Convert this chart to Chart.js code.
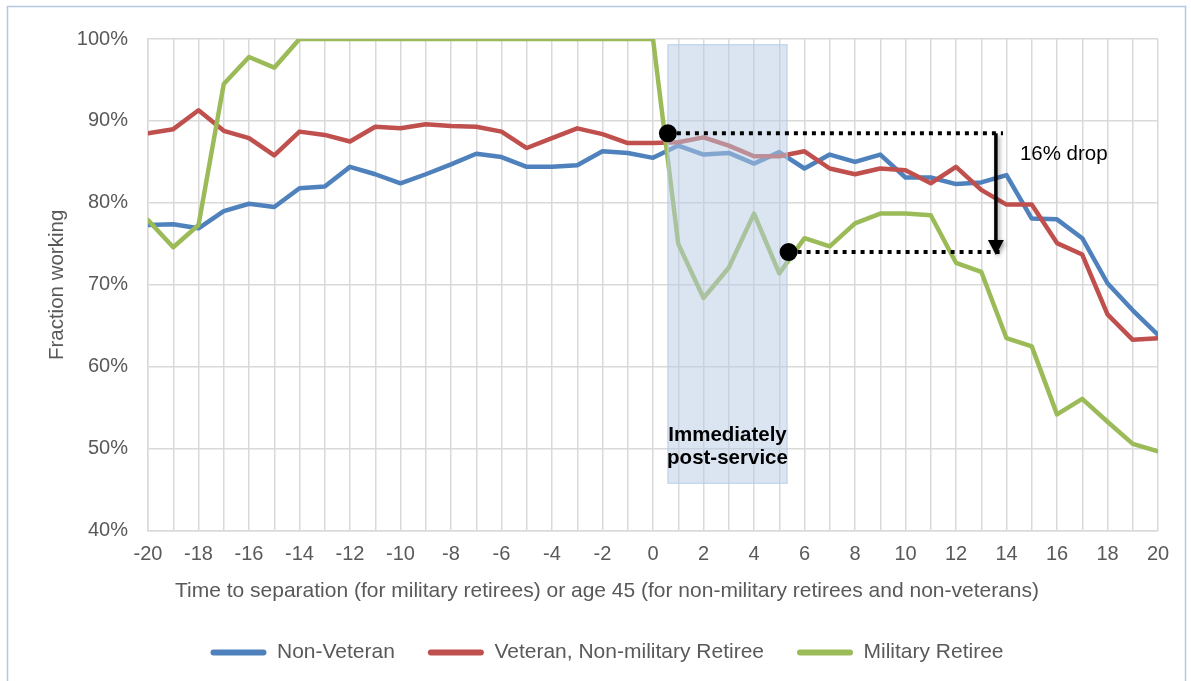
<!DOCTYPE html>
<html>
<head>
<meta charset="utf-8">
<script src="https://cdn.jsdelivr.net/npm/chart.js@4.4.0/dist/chart.umd.min.js"></script>
<style>
  html, body { margin: 0; padding: 0; background: #fff; }
  #wrap { width: 1191px; height: 681px; position: relative; }
</style>
</head>
<body>
<div id="wrap"><canvas id="chart"></canvas></div>
<script>
// Years relative to separation / age 45
const years = [-20, -19, -18, -17, -16, -15, -14, -13, -12, -11, -10,
  -9, -8, -7, -6, -5, -4, -3, -2, -1, 0,
  1, 2, 3, 4, 5, 6, 7, 8, 9, 10,
  11, 12, 13, 14, 15, 16, 17, 18, 19, 20];

// Fraction working (%)
const nonVeteran = [77.3, 77.4, 76.9, 79.0, 79.9, 79.5, 81.8, 82.0, 84.4, 83.5, 82.4,
  83.5, 84.7, 86.0, 85.6, 84.4, 84.4, 84.6, 86.3, 86.1, 85.5,
  87.0, 85.9, 86.1, 84.8, 86.2, 84.2, 85.9, 85.0, 85.9, 83.1,
  83.1, 82.3, 82.5, 83.4, 78.1, 78.0, 75.7, 70.2, 66.9, 63.9];
const veteran = [88.5, 89.0, 91.3, 88.8, 87.9, 85.8, 88.7, 88.3, 87.5, 89.3, 89.1,
  89.6, 89.4, 89.3, 88.7, 86.7, 87.9, 89.1, 88.4, 87.3, 87.3,
  87.4, 88.0, 87.0, 85.7, 85.7, 86.3, 84.2, 83.5, 84.2, 84.0,
  82.4, 84.4, 81.6, 79.8, 79.8, 75.1, 73.7, 66.4, 63.3, 63.5];
const militaryRetiree = [77.9, 74.6, 77.3, 94.5, 97.8, 96.5, 100, 100, 100, 100, 100,
  100, 100, 100, 100, 100, 100, 100, 100, 100, 100,
  75.0, 68.4, 72.1, 78.7, 71.4, 75.7, 74.7, 77.5, 78.7, 78.7,
  78.5, 72.7, 71.6, 63.5, 62.5, 54.2, 56.1, 53.3, 50.6, 49.7];

const seriesNames = ['Non-Veteran', 'Veteran, Non-military Retiree', 'Military Retiree'];
const seriesColors = ['#4f81bd', '#c0504d', '#9bbb59'];

// annotation values (data units)
const windowStart = 0.59, windowEnd = 5.31, windowTop = 99.3, windowBottom = 45.8;
const dropFrom = 88.5, dropTo = 74.0, dropFromX = 0.59, dropToX = 5.37, dropEndX = 13.86;
const arrowX = 13.58;

const FONT = '"Liberation Sans", Arial, sans-serif';

function toPoints(values) {
  return values.map((v, i) => ({ x: years[i], y: v }));
}

const background = {
  id: 'background',
  beforeDraw(chart) {
    const { ctx, width, height } = chart;
    ctx.save();
    ctx.fillStyle = '#fff';
    ctx.fillRect(0, 0, width, height);
    ctx.strokeStyle = '#b4c8e4';
    ctx.lineWidth = 1.5;
    ctx.strokeRect(7.5, 6.5, 1178, height + 20);
    ctx.restore();
  }
};

const annotations = {
  id: 'annotations',
  afterDatasetsDraw(chart) {
    const { ctx, scales: { x, y } } = chart;
    ctx.save();

    // shaded "immediately post-service" window
    const bx1 = x.getPixelForValue(windowStart), bx2 = x.getPixelForValue(windowEnd);
    const by1 = y.getPixelForValue(windowTop), by2 = y.getPixelForValue(windowBottom);
    ctx.fillStyle = 'rgba(184, 204, 228, 0.5)';
    ctx.fillRect(bx1, by1, bx2 - bx1, by2 - by1);
    ctx.strokeStyle = '#b9cde5';
    ctx.lineWidth = 1;
    ctx.strokeRect(bx1, by1, bx2 - bx1, by2 - by1);

    ctx.fillStyle = '#000';
    ctx.font = 'bold 20.5px ' + FONT;
    ctx.textAlign = 'center';
    ctx.textBaseline = 'alphabetic';
    const cx = (bx1 + bx2) / 2;
    ctx.fillText('Immediately', cx, y.getPixelForValue(51.0));
    ctx.fillText('post-service', cx, y.getPixelForValue(48.1));

    // dotted guide lines
    const yTop = y.getPixelForValue(dropFrom), yBot = y.getPixelForValue(dropTo);
    const xEnd = x.getPixelForValue(dropEndX);
    ctx.strokeStyle = '#000';
    ctx.lineWidth = 4;
    ctx.setLineDash([4, 5]);
    ctx.beginPath();
    ctx.moveTo(x.getPixelForValue(dropFromX), yTop);
    ctx.lineTo(xEnd, yTop);
    ctx.moveTo(x.getPixelForValue(dropToX), yBot);
    ctx.lineTo(xEnd, yBot);
    ctx.stroke();
    ctx.setLineDash([]);

    // arrow
    const ax = x.getPixelForValue(arrowX);
    const tip = yBot + 3;
    ctx.shadowColor = 'rgba(0,0,0,0.35)';
    ctx.shadowBlur = 4;
    ctx.shadowOffsetX = 2;
    ctx.shadowOffsetY = 2;
    ctx.lineWidth = 3.5;
    ctx.beginPath();
    ctx.moveTo(ax, yTop);
    ctx.lineTo(ax, tip - 12);
    ctx.stroke();
    ctx.beginPath();
    ctx.moveTo(ax - 8, tip - 15);
    ctx.lineTo(ax + 8, tip - 15);
    ctx.lineTo(ax, tip);
    ctx.closePath();
    ctx.fill();
    ctx.shadowColor = 'transparent';

    ctx.font = '20.5px ' + FONT;
    ctx.textAlign = 'left';
    ctx.fillText('16% drop', x.getPixelForValue(14.53), y.getPixelForValue(85.2));

    // dots
    ctx.beginPath();
    ctx.arc(x.getPixelForValue(dropFromX), yTop, 9, 0, Math.PI * 2);
    ctx.arc(x.getPixelForValue(dropToX), yBot, 9, 0, Math.PI * 2);
    ctx.fill();

    ctx.restore();
  }
};

const allSeries = [nonVeteran, veteran, militaryRetiree];

new Chart(document.getElementById('chart'), {
  type: 'line',
  data: {
    datasets: allSeries.map((values, i) => ({
      label: seriesNames[i],
      data: toPoints(values),
      borderColor: seriesColors[i],
      backgroundColor: seriesColors[i],
      borderWidth: 4.5,
      borderJoinStyle: 'round',
      borderCapStyle: 'round',
      pointRadius: 0,
      tension: 0,
      order: 2 - i
    }))
  },
  options: {
    responsive: true,
    maintainAspectRatio: false,
    animation: false,
    layout: { padding: { left: 56, right: 33, top: 39, bottom: 8 } },
    plugins: {
      title: {
        display: true,
        position: 'bottom',
        weight: 500,
        text: 'Time to separation (for military retirees) or age 45 (for non-military retirees and non-veterans)',
        color: '#595959',
        font: { family: FONT, size: 21, weight: 'normal' },
        padding: { top: 0, bottom: 5 }
      },
      legend: {
        position: 'bottom',
        labels: {
          boxWidth: 56,
          boxHeight: 6,
          padding: 33,
          color: '#595959',
          font: { family: FONT, size: 21 },
          useBorderRadius: true,
          borderRadius: 3,
          sort: (a, b) => a.datasetIndex - b.datasetIndex,
          generateLabels(chart) {
            return Chart.defaults.plugins.legend.labels.generateLabels(chart)
              .map(item => ({ ...item, lineWidth: 0, borderRadius: 3 }));
          }
        }
      },
      tooltip: { enabled: false }
    },
    scales: {
      x: {
        type: 'linear',
        min: -20,
        max: 20,
        afterFit(scale) { scale.height = 48; },
        ticks: {
          stepSize: 1,
          autoSkip: false,
          maxRotation: 0,
          padding: 12,
          color: '#595959',
          font: { family: FONT, size: 20 },
          callback: v => (v % 2 === 0 ? String(v) : '')
        },
        grid: { color: '#d9d9d9', lineWidth: 1.5, drawTicks: false },
        border: { color: '#d9d9d9', width: 1.5 }
      },
      y: {
        min: 40,
        max: 100,
        afterFit(scale) { scale.width = 92; },
        ticks: {
          stepSize: 10,
          padding: 20,
          color: '#595959',
          font: { family: FONT, size: 20 },
          callback: v => v + '%'
        },
        grid: { color: '#d9d9d9', lineWidth: 1.5, drawTicks: false },
        border: { color: '#d9d9d9', width: 1.5 },
        title: {
          display: true,
          text: 'Fraction working',
          color: '#595959',
          font: { family: FONT, size: 20.5 },
          padding: { top: -11, bottom: 0 }
        }
      }
    }
  },
  plugins: [background, annotations]
});
</script>
</body>
</html>
